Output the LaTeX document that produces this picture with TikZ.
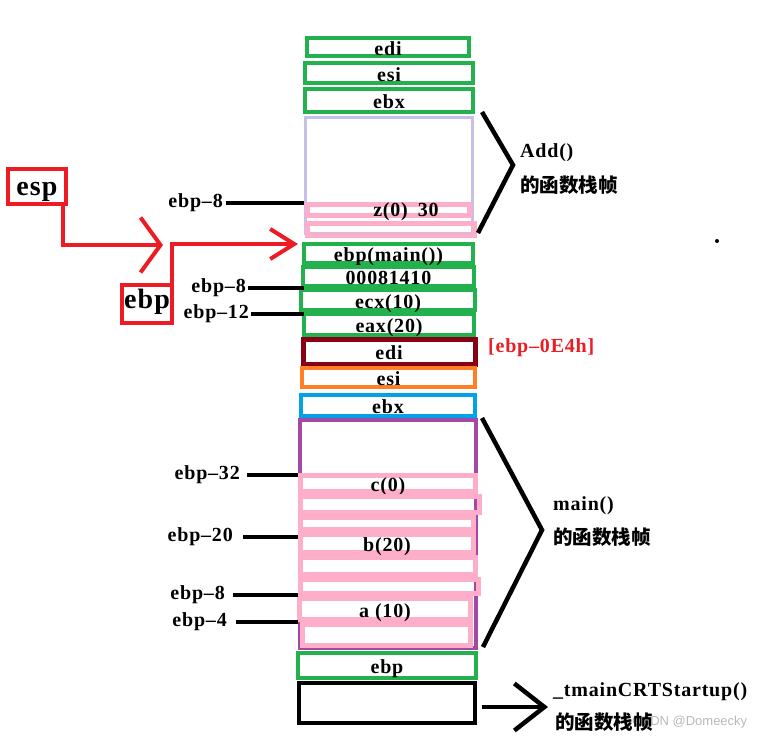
\documentclass[tikz,border=0pt]{standalone}
\usepackage{fontspec}
\setmainfont{Liberation Serif}[LetterSpace=4]
\newfontfamily\cjk{Noto Sans CJK SC}
\newfontfamily\wmark{Liberation Sans}
\usetikzlibrary{arrows.meta}

\definecolor{pgreen}{HTML}{22B14C}
\definecolor{plav}{HTML}{C8BFE7}
\definecolor{ppink}{HTML}{FFAEC9}
\definecolor{ppurple}{HTML}{A349A4}
\definecolor{pdark}{HTML}{880015}
\definecolor{porange}{HTML}{FF7F27}
\definecolor{pblue}{HTML}{00A2E8}
\definecolor{pred}{HTML}{ED1C24}

\begin{document}
\begin{tikzpicture}[x=1pt,y=-1pt,
  box/.style={draw,inner sep=0pt},
  slot/.style={box,text height=16pt,text depth=0pt,font=\fontsize{20}{20}\selectfont\bfseries},
  gslot/.style={slot,draw=pgreen,line width=4.5pt},
  pslot/.style={slot,draw=ppink,line width=5pt},
  pad/.style={box,draw=ppink,line width=5pt},
  tag/.style={inner sep=0pt,font=\fontsize{20}{20}\selectfont\bfseries},
  zh/.style={inner sep=0pt,anchor=west,font=\cjk\fontsize{19.5}{19.5}\selectfont\bfseries},
  reg/.style={box,draw=pred,line width=4pt,text depth=0pt,font=\fontsize{28}{28}\selectfont\bfseries},
  tick/.style={line width=4pt},
  brace/.style={line width=4.5pt},
  redline/.style={draw=pred,line width=4pt}]
\useasboundingbox (0,0) rectangle (764,740);

% Add() frame
\node[gslot,minimum width=162pt,minimum height=18pt] (ediA) at (388,47) {edi};
\node[gslot,minimum width=168pt,minimum height=20pt] (esiA) at (389,73) {esi};
\node[gslot,minimum width=168pt,minimum height=23pt] (ebxA) at (389,100.5) {ebx};
\node[box,draw=plav,line width=3pt,minimum width=167pt,minimum height=116pt] (addframe) at (389,175) {};
\node[pad,minimum width=162pt,minimum height=11pt] (zslot) at (388.5,210) {};
\node[pad,minimum width=167pt,minimum height=12pt] (zpad) at (391,229.5) {};
\node[tag] (zval) at (406,212) {z(0)\hspace{10pt}30};

% main() frame
\node[gslot,minimum width=169pt,minimum height=19pt] (ebpmain) at (388.5,253.5) {ebp(main())};
\node[gslot,minimum width=171pt,minimum height=19pt] (retaddr) at (388.5,276.5) {00081410};
\node[gslot,minimum width=174pt,minimum height=20pt] (ecxslot) at (388,300) {ecx(10)};
\node[gslot,minimum width=170pt,minimum height=21pt] (eaxslot) at (389,324.5) {eax(20)};
\node[slot,draw=pdark,line width=5pt,minimum width=172pt,minimum height=25pt] (ediM) at (389,351.5) {edi};
\node[slot,draw=porange,line width=4.5pt,minimum width=173pt,minimum height=19pt] (esiM) at (388.5,377.5) {esi};
\node[slot,draw=pblue,line width=4.5pt,minimum width=174pt,minimum height=21pt] (ebxM) at (388,405.5) {ebx};
\node[box,draw=ppurple,line width=4pt,minimum width=176pt,minimum height=228pt] (mainframe) at (388,534) {};
\node[pslot,minimum width=175pt,minimum height=16pt] (cslot) at (388,483.5) {c(0)};
\node[pad,minimum width=179pt,minimum height=16pt] (cpad) at (390,504.5) {};
\node[pad,minimum width=173pt,minimum height=12pt] (bpadA) at (387,523.5) {};
\node[pslot,minimum width=173pt,minimum height=18pt] (bslot) at (387,543.5) {b(20)};
\node[pad,minimum width=175pt,minimum height=17pt] (bpadB) at (388,566) {};
\node[pad,minimum width=178pt,minimum height=14pt] (bpadC) at (389.5,586.5) {};
\node[pslot,minimum width=171pt,minimum height=21pt] (aslot) at (385,609) {a (10)};
\node[pad,minimum width=168pt,minimum height=21pt] (apad) at (386.5,635) {};

% caller frame
\node[gslot,minimum width=178pt,minimum height=25pt] (ebpold) at (387,665.5) {ebp};
\node[box,line width=4.5pt,minimum width=176pt,minimum height=40pt] (crtframe) at (387,703) {};

% offsets on the left
\node[tag,anchor=east] (offz) at (223,203) {ebp--8};
\node[tag,anchor=east] (offret) at (246,288) {ebp--8};
\node[tag,anchor=east] (offecx) at (249,314) {ebp--12};
\node[tag,anchor=east] (offc) at (240,475) {ebp--32};
\node[tag,anchor=east] (offb) at (233,537) {ebp--20};
\node[tag,anchor=east] (offa8) at (225,595) {ebp--8};
\node[tag,anchor=east] (offa4) at (227,622) {ebp--4};
\draw[tick] ([xshift=3pt]offz.east) -- (offz -| addframe.west);
\draw[tick] ([xshift=2pt]offret.east) -- (offret -| addframe.west);
\draw[tick] ([xshift=2pt]offecx.east) -- (offecx -| addframe.west);
\draw[tick] ([xshift=7pt]offc.east) -- (offc -| mainframe.west);
\draw[tick] ([xshift=10pt]offb.east) -- (offb -| mainframe.west);
\draw[tick] ([xshift=8pt]offa8.east) -- (offa8 -| mainframe.west);
\draw[tick] ([xshift=9pt]offa4.east) -- (offa4 -| mainframe.west);

% esp / ebp registers
\node[reg,text height=17pt,minimum width=58pt,minimum height=35pt] (esp) at (37,186.5) {esp};
\node[reg,text height=8pt,minimum width=50pt,minimum height=38pt] (ebpreg) at (147,304) {ebp};
\coordinate (esptip) at (163,245);
\coordinate (ebptip) at (298,244);
\draw[redline,-{Straight Barb[length=20pt,width=55pt]}] ([xshift=-5pt]esp.south east) |- (esptip);
\draw[redline,-{Straight Barb[length=24pt,width=30pt]}] ([xshift=-2pt]ebpreg.north east) |- (ebptip);

\node[tag,text=pred,anchor=west] (ediaddr) at (488,348) {[ebp--0E4h]};

% braces
\coordinate (addtop) at (482,112);
\coordinate (addtip) at (513,165);
\coordinate (addbot) at (478,233);
\draw[brace] (addtop) -- (addtip) -- (addbot);
\node[tag,anchor=west] (addname) at (520,153) {Add()};
\node[zh] (addzh) at (520,185) {的函数栈帧};

\coordinate (maintop) at (482,418);
\coordinate (maintip) at (542,530);
\coordinate (mainbot) at (483,647);
\draw[brace] (maintop) -- (maintip) -- (mainbot);
\node[tag,anchor=west] (mainname) at (553,506) {main()};
\node[zh] (mainzh) at (553,537) {的函数栈帧};

\coordinate (crttip) at (548,707);
\draw[brace,-{Straight Barb[length=30pt,width=47pt]}] ([shift={(5,4)}]crtframe.east) -- (crttip);
\node[inner sep=0pt,anchor=west,text=black!28,font=\wmark\fontsize{13}{13}\selectfont] (wm) at (632,722) {CSDN @Domeecky};
\node[tag,anchor=west] (crtname) at (553,692) {\_tmainCRTStartup()};
\node[zh] (crtzh) at (555,722) {的函数栈帧};

\fill (717,241) circle (2pt);
\end{tikzpicture}
\end{document}
